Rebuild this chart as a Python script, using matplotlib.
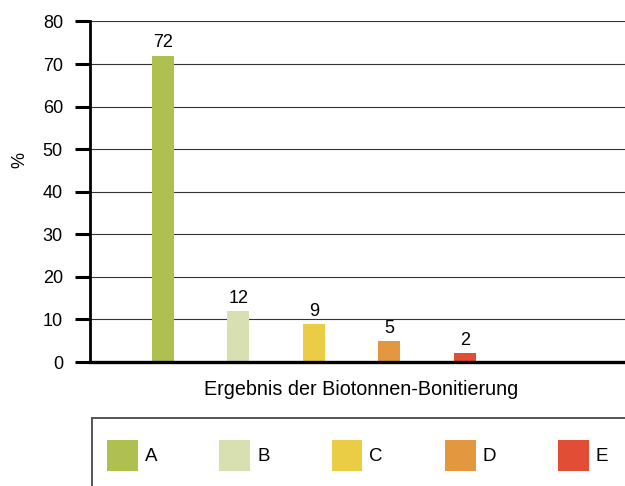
import matplotlib
matplotlib.use("Agg")
import matplotlib.pyplot as plt
from matplotlib.patches import Patch, Rectangle

# Daten
categories = ["A", "B", "C", "D", "E"]
values = [72, 12, 9, 5, 2]
colors = ["#AFBF50", "#D8DFB1", "#EBCD45", "#E3983F", "#E24E35"]
y_ticks = [0, 10, 20, 30, 40, 50, 60, 70, 80]

plt.rcParams["font.family"] = ["Liberation Sans", "DejaVu Sans"]

W, H = 625, 486
fig = plt.figure(figsize=(W / 100, H / 100), dpi=100)

# Achsenbereich in Pixeln: links 90, oben 21.5, unten 362, rechts über den Rand hinaus
left, top, bottom = 90, 21.5, 362
ax_w = 1 - left / W + 0.01
ax = fig.add_axes([left / W, (H - bottom) / H, ax_w, (bottom - top) / H])

x = list(range(len(categories)))
bars = ax.bar(x, values, width=0.29, color=colors, zorder=3)
ax.bar_label(bars, labels=[str(v) for v in values], padding=3, fontsize=13)

ax.set_xlim(-0.96, 6.2)
ax.set_ylim(0, 80)
ax.set_yticks(y_ticks)
ax.set_xticks([])
ax.tick_params(axis="y", length=10.5, width=2.2, pad=9, labelsize=13)

ax.grid(axis="y", color="#333333", linewidth=0.8, zorder=0)
for s in ["top", "right"]:
    ax.spines[s].set_visible(False)
ax.spines["left"].set_linewidth(2)
ax.spines["bottom"].set_linewidth(2.4)
ax.spines["bottom"].set_zorder(4)

ax.set_ylabel("%", fontsize=13)
ax.yaxis.set_label_coords((28 - left) / (W * ax_w), (bottom - 160) / (bottom - top))
ax.set_xlabel("Ergebnis der Biotonnen-Bonitierung", fontsize=14.2)
ax.xaxis.set_label_coords((361 - left) / (W * ax_w), -0.082)
ax.xaxis.label.set_va("center")

# Legendenrahmen, der über den Bildrand hinausläuft
frame = Rectangle((92 / W, -0.1), 1.0, (H - 418) / H + 0.1, transform=fig.transFigure,
                  fill=False, edgecolor="#555555", linewidth=1.4)
fig.patches.append(frame)

handles = [Patch(facecolor=c, edgecolor="none") for c in colors]
fig.legend(handles, categories, loc="center left",
           bbox_to_anchor=(107 / W, (H - 455.5) / H), ncol=5, frameon=False,
           fontsize=13.5, handlelength=1.65, handleheight=2.24,
           handletextpad=0.37, columnspacing=3.3, borderpad=0, borderaxespad=0)

fig.savefig("out.png", dpi=100)
